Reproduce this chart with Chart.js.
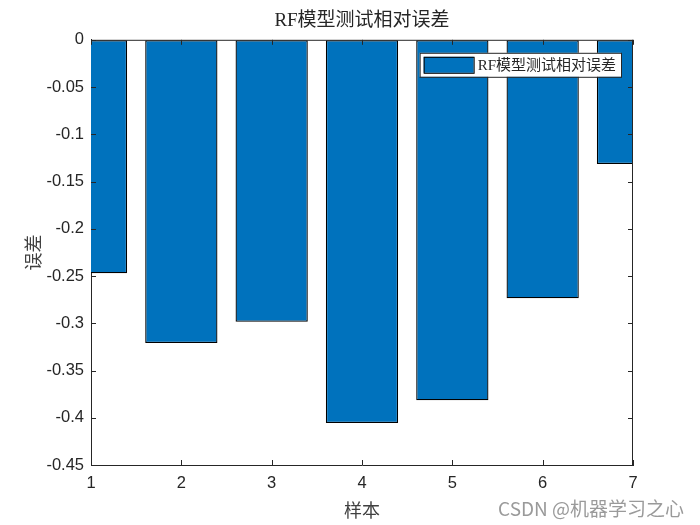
<!DOCTYPE html>
<html>
<head>
<meta charset="utf-8">
<script src="https://cdn.jsdelivr.net/npm/chart.js@4/dist/chart.umd.min.js"></script>
<style>
  html, body { margin: 0; padding: 0; background: #fff; }
  #wrap { width: 700px; height: 525px; position: relative; }
</style>
</head>
<body>
<div id="wrap"><canvas id="bar-chart" width="700" height="525"></canvas></div>
<script>
// data
const samples = [1, 2, 3, 4, 5, 6, 7];
const errors = [-0.247, -0.321, -0.2985, -0.4055, -0.3815, -0.2735, -0.1315];
const yTicks = [0, -0.05, -0.1, -0.15, -0.2, -0.25, -0.3, -0.35, -0.4, -0.45];

const serif = "'Liberation Serif', 'Noto Sans CJK SC', serif";
const sans = "'Liberation Sans', Arial, sans-serif";
const cjk = "'Noto Sans CJK SC', 'Liberation Sans', sans-serif";
const axisCol = '#262626';

// MATLAB style: inward ticks, box, legend with a frame, watermark
const matlabBox = {
  id: 'matlabBox',
  afterDatasetsDraw(chart) {
    const { ctx, chartArea: a, scales: { x, y } } = chart;
    const t = 5;
    ctx.save();
    ctx.strokeStyle = axisCol;
    ctx.lineWidth = 1;
    ctx.beginPath();
    // top and right lines
    ctx.moveTo(a.left, a.top + 0.5); ctx.lineTo(a.right, a.top + 0.5);
    ctx.moveTo(a.right - 0.5, a.top); ctx.lineTo(a.right - 0.5, a.bottom);
    x.ticks.forEach(tk => {
      const px = Math.round(x.getPixelForValue(tk.value)) + 0.5;
      ctx.moveTo(px, a.bottom); ctx.lineTo(px, a.bottom - t);
      ctx.moveTo(px, a.top); ctx.lineTo(px, a.top + t);
    });
    y.ticks.forEach(tk => {
      const py = Math.round(y.getPixelForValue(tk.value)) + 0.5;
      ctx.moveTo(a.left, py); ctx.lineTo(a.left + t, py);
      ctx.moveTo(a.right, py); ctx.lineTo(a.right - t, py);
    });
    ctx.stroke();

    // legend
    const ds = chart.data.datasets[0];
    ctx.font = '15px ' + serif;
    const tw = ctx.measureText(ds.label).width;
    const bw = 4 + 50 + 4 + tw + 5, bh = 24;
    const bx = a.right - 12 - bw, by = a.top + 13;
    ctx.fillStyle = '#fff';
    ctx.fillRect(bx, by, bw, bh);
    ctx.strokeStyle = axisCol;
    ctx.strokeRect(bx + 0.5, by + 0.5, bw, bh);
    ctx.fillStyle = ds.backgroundColor;
    ctx.fillRect(bx + 4, by + 4, 50, 16);
    ctx.strokeStyle = '#000';
    ctx.strokeRect(bx + 4.5, by + 4.5, 50, 16);
    ctx.fillStyle = axisCol;
    ctx.textBaseline = 'middle';
    ctx.textAlign = 'left';
    ctx.fillText(ds.label, bx + 58, by + bh / 2 + 1);

    // watermark
    ctx.font = '19px ' + cjk;
    ctx.fillStyle = '#9a9a9a';
    ctx.textAlign = 'right';
    ctx.fillText('CSDN @机器学习之心', 684, 509);
    ctx.restore();
  }
};

new Chart(document.getElementById("bar-chart"), {
  type: 'bar',
  data: {
    datasets: [{
      label: "RF模型测试相对误差",
      data: samples.map((s, i) => ({ x: s, y: errors[i] })),
      backgroundColor: '#0072bd',
      borderColor: '#000',
      borderWidth: 1.3,
      borderSkipped: false,
      barPercentage: 0.8,
      categoryPercentage: 1,
      clip: 0
    }]
  },
  options: {
    responsive: false,
    animation: false,
    devicePixelRatio: 1,
    layout: { padding: { right: 67, top: 0, bottom: 0, left: 0 } },
    plugins: {
      legend: { display: false },
      tooltip: { enabled: false },
      title: {
        display: true,
        fullSize: false,
        text: 'RF模型测试相对误差',
        color: axisCol,
        font: { family: serif, size: 19, weight: 'normal' },
        padding: { top: 10, bottom: 7 }
      }
    },
    scales: {
      x: {
        type: 'linear',
        min: 1, max: 7,
        offset: false,
        afterFit: s => { s.height = 60; },
        grid: { display: true, drawOnChartArea: false, drawTicks: false },
        border: { display: true, color: axisCol },
        ticks: { stepSize: 1, color: axisCol, padding: 9, font: { family: sans, size: 16.5 } },
        title: { display: true, text: '样本', color: '#404040', font: { family: cjk, size: 18 }, padding: { top: 0, bottom: 4 } }
      },
      y: {
        min: -0.45, max: 0,
        afterFit: s => { s.width = 91; },
        afterBuildTicks: s => { s.ticks = yTicks.map(v => ({ value: v })); },
        grid: { display: true, drawOnChartArea: false, drawTicks: false },
        border: { display: true, color: axisCol },
        ticks: { color: axisCol, padding: 7, font: { family: sans, size: 16.5 }, callback: v => String(v) },
        title: { display: true, text: '误差', color: '#404040', font: { family: cjk, size: 18 }, padding: { top: 22 } }
      }
    }
  },
  plugins: [matlabBox]
});
</script>
</body>
</html>
